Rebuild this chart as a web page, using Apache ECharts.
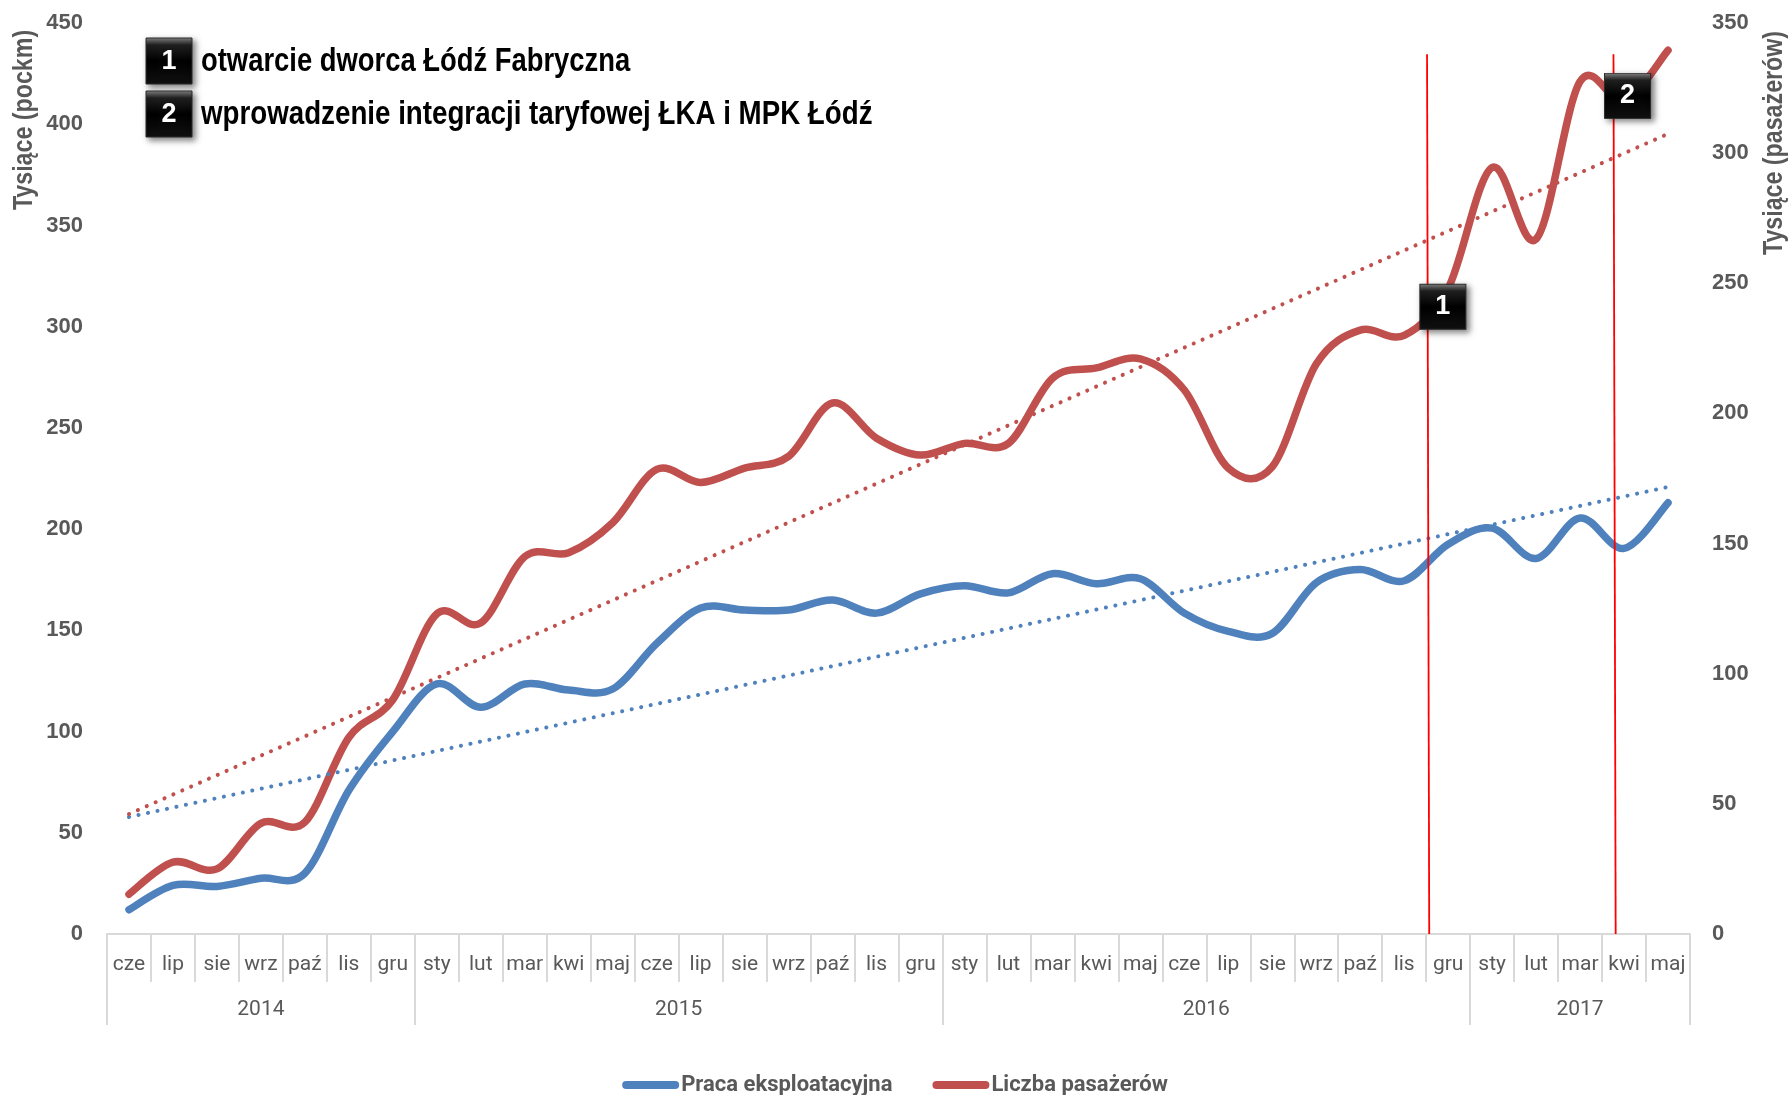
<!DOCTYPE html>
<html><head><meta charset="utf-8">
<script src="https://cdn.jsdelivr.net/npm/echarts@6/dist/echarts.min.js"></script>
<style>html,body{margin:0;padding:0;background:#fff}#c{width:1790px;height:1095px}</style>
</head><body><div id="c"></div>
<script>
// ---- data ----
const months = ['cze','lip','sie','wrz','paź','lis','gru',
  'sty','lut','mar','kwi','maj','cze','lip','sie','wrz','paź','lis','gru',
  'sty','lut','mar','kwi','maj','cze','lip','sie','wrz','paź','lis','gru',
  'sty','lut','mar','kwi','maj'];
const years = ['2014','2015','2016','2017'];
const monthsInYear = [7, 12, 12, 5];
// Praca eksploatacyjna (tys. pockm) - left axis
const pracaEksploatacyjna = [12, 24, 23.5, 27.5, 30, 71, 100,
  123.5, 112, 123.5, 120.5, 121, 143.5, 161, 160, 160, 165, 158.5, 168,
  172, 168.5, 178, 173, 175.5, 158.5, 149.5, 148.5, 173.5, 180, 174.5, 192.5,
  200.5, 185.5, 205.5, 190.5, 213];
// Liczba pasażerów (tys.) - right axis
const liczbaPasazerow = [15.3, 27.6, 25, 42.5, 43, 75.5, 90,
  123, 119.5, 145, 146.5, 158, 178.5, 173.5, 179, 183.5, 204, 190.5, 184,
  188.5, 188.5, 213.5, 217.5, 221, 209, 179, 179.5, 219, 232, 230, 248,
  294.5, 267, 327.5, 320, 339.5];
// linear trend lines (start / end values)
const trendPraca = [57.8, 220.8];
const trendPasazerow = [46.1, 307.4];
const seriesNames = ['Praca eksploatacyjna', 'Liczba pasażerów'];
const eventLabels = ['1', '2'];
const eventTexts = ['otwarcie dworca Łódź Fabryczna', 'wprowadzenie integracji taryfowej ŁKA i MPK Łódź'];

// ---- chart ----
const SANS = "'Liberation Sans', Arial, sans-serif";
const LABEL = "Roboto, 'Liberation Sans', sans-serif";
const GRAY = '#595959';
const BLUE = '#4F81BD';
const RED = '#C0504D';
const AXISGRAY = '#D9D9D9';

const bounds = [0];
monthsInYear.forEach(n => bounds.push(bounds[bounds.length - 1] + n));
const centers = years.map((y, i) => (bounds[i] + bounds[i + 1]) / 2);

function boxFill() {
  return new echarts.graphic.LinearGradient(0, 0, 0, 1, [
    {offset: 0, color: '#8a8a8a'},
    {offset: 0.16, color: '#202020'},
    {offset: 0.5, color: '#000000'},
    {offset: 1, color: '#111111'}
  ]);
}

// Smoothed line (Catmull-Rom through the data points, as in spreadsheet "smoothed line")
function smoothLine(values, color) {
  return function (params, api) {
    if (params.dataIndex !== 0) return null;
    const p = values.map((v, i) => api.coord([i, v]));
    const n = p.length;
    let d = 'M' + p[0][0] + ' ' + p[0][1];
    for (let i = 0; i < n - 1; i++) {
      const p0 = p[Math.max(i - 1, 0)], p1 = p[i], p2 = p[i + 1], p3 = p[Math.min(i + 2, n - 1)];
      const c1x = p1[0] + (p2[0] - p0[0]) / 6, c1y = p1[1] + (p2[1] - p0[1]) / 6;
      const c2x = p2[0] - (p3[0] - p1[0]) / 6, c2y = p2[1] - (p3[1] - p1[1]) / 6;
      d += ' C' + c1x + ' ' + c1y + ' ' + c2x + ' ' + c2y + ' ' + p2[0] + ' ' + p2[1];
    }
    return {
      type: 'path', shape: {pathData: d},
      style: {fill: null, stroke: color, lineWidth: 7.5, lineCap: 'round', lineJoin: 'round'}
    };
  };
}

const chart = echarts.init(document.getElementById('c'), null, {renderer: 'canvas'});
const dotted = {type: [0.1, 9.6], cap: 'round', width: 4};

const option = {
  animation: false,
  backgroundColor: '#ffffff',
  grid: {left: 107, right: 100, top: 23, bottom: 161, containLabel: false},
  legend: {
    data: seriesNames,
    top: 1069, left: 'center',
    itemWidth: 57, itemHeight: 8, itemGap: 40,
    icon: 'path://M4,0 H53 A4,4 0 0 1 53,8 H4 A4,4 0 0 1 4,0 Z',
    textStyle: {fontFamily: LABEL, fontWeight: 'bold', fontSize: 22, color: GRAY, padding: [0, 0, 0, -3]}
  },
  xAxis: [
    {
      type: 'category', data: months, boundaryGap: true, position: 'bottom',
      axisLine: {show: true, lineStyle: {color: AXISGRAY, width: 2}},
      axisTick: {show: true, interval: 0, length: 48, lineStyle: {color: AXISGRAY, width: 2}},
      axisLabel: {interval: 0, margin: 20, fontSize: 21, fontFamily: LABEL, color: GRAY},
      splitLine: {show: false}
    },
    {
      type: 'value', min: 0, max: months.length, position: 'bottom',
      axisLine: {show: false}, splitLine: {show: false},
      axisTick: {show: true, customValues: bounds, length: 91, lineStyle: {color: AXISGRAY, width: 2}},
      axisLabel: {
        show: true, customValues: centers, margin: 65, fontSize: 21, fontFamily: LABEL, color: GRAY,
        formatter: v => { const i = centers.findIndex(c => Math.abs(c - v) < 0.01); return i >= 0 ? years[i] : ''; }
      }
    }
  ],
  yAxis: [
    {
      type: 'value', min: 0, max: 450, interval: 50, position: 'left',
      axisLine: {show: false}, axisTick: {show: false}, splitLine: {show: false},
      axisLabel: {margin: 24, fontSize: 22, fontWeight: 'bold', fontFamily: SANS, color: GRAY}
    },
    {
      type: 'value', min: 0, max: 350, interval: 50, position: 'right',
      axisLine: {show: false}, axisTick: {show: false}, splitLine: {show: false},
      axisLabel: {margin: 22, fontSize: 22, fontWeight: 'bold', fontFamily: SANS, color: GRAY}
    }
  ],
  series: [
    {
      name: seriesNames[0], type: 'custom', xAxisIndex: 0, yAxisIndex: 0,
      data: pracaEksploatacyjna.map((v, i) => [i, v]), encode: {x: 0, y: 1},
      renderItem: smoothLine(pracaEksploatacyjna, BLUE),
      itemStyle: {color: BLUE}, clip: false, z: 2
    },
    {
      name: seriesNames[1], type: 'custom', xAxisIndex: 0, yAxisIndex: 1,
      data: liczbaPasazerow.map((v, i) => [i, v]), encode: {x: 0, y: 1},
      renderItem: smoothLine(liczbaPasazerow, RED),
      itemStyle: {color: RED}, clip: false, z: 2
    },
    {
      name: 'trend1', type: 'line', xAxisIndex: 0, yAxisIndex: 0,
      data: [[0, trendPraca[0]], [months.length - 1, trendPraca[1]]],
      symbol: 'none', lineStyle: Object.assign({color: BLUE}, dotted), z: 3
    },
    {
      name: 'trend2', type: 'line', xAxisIndex: 0, yAxisIndex: 1,
      data: [[0, trendPasazerow[0]], [months.length - 1, trendPasazerow[1]]],
      symbol: 'none', lineStyle: Object.assign({color: RED}, dotted), z: 3
    },
    {
      name: 'events', type: 'line', xAxisIndex: 1, yAxisIndex: 1, data: [], z: 5,
      markLine: {
        silent: true, symbol: ['none', 'none'], label: {show: false},
        lineStyle: {color: '#FF0000', width: 1.8, type: 'solid'},
        data: [
          [{coord: [30.02, 338]}, {coord: [30.07, 0]}],
          [{coord: [34.26, 338]}, {coord: [34.31, 0]}]
        ]
      },
      markPoint: {
        silent: true, symbol: 'rect', symbolSize: [46, 45],
        itemStyle: {color: boxFill(), borderColor: '#2a2a2a', borderWidth: 1,
          shadowBlur: 6, shadowOffsetX: 3, shadowOffsetY: 3, shadowColor: 'rgba(0,0,0,0.5)'},
        label: {show: true, position: 'inside', formatter: p => p.name, color: '#fff',
          fontSize: 27, fontWeight: 'bold', fontFamily: SANS},
        data: [
          {name: eventLabels[0], coord: [30.38, 241]},
          {name: eventLabels[1], coord: [34.58, 322]}
        ]
      }
    }
  ],
  graphic: [
    {type: 'text', x: 25, y: 120, rotation: Math.PI / 2, scaleX: 0.86, z: 10,
      style: {text: 'Tysiące (pockm)', fill: GRAY, fontSize: 27, fontWeight: 'bold', fontFamily: SANS, align: 'center', verticalAlign: 'middle'}},
    {type: 'text', x: 1775, y: 143, rotation: Math.PI / 2, scaleX: 0.86, z: 10,
      style: {text: 'Tysiące (pasażerów)', fill: GRAY, fontSize: 27, fontWeight: 'bold', fontFamily: SANS, align: 'center', verticalAlign: 'middle'}},
    {type: 'group', x: 146, y: 38, z: 10, children: [
      {type: 'rect', shape: {x: 0, y: 0, width: 46, height: 46}, style: {fill: boxFill(), stroke: '#2a2a2a', lineWidth: 1, shadowBlur: 6, shadowOffsetX: 3, shadowOffsetY: 3, shadowColor: 'rgba(0,0,0,0.5)'}},
      {type: 'text', x: 23, y: 24, style: {text: eventLabels[0], fill: '#fff', fontSize: 27, fontWeight: 'bold', fontFamily: SANS, align: 'center', verticalAlign: 'middle'}}
    ]},
    {type: 'text', x: 201, y: 62, scaleX: 0.83, z: 10,
      style: {text: eventTexts[0], fill: '#000', fontSize: 33, fontWeight: 'bold', fontFamily: SANS, align: 'left', verticalAlign: 'middle'}},
    {type: 'group', x: 146, y: 91, z: 10, children: [
      {type: 'rect', shape: {x: 0, y: 0, width: 46, height: 46}, style: {fill: boxFill(), stroke: '#2a2a2a', lineWidth: 1, shadowBlur: 6, shadowOffsetX: 3, shadowOffsetY: 3, shadowColor: 'rgba(0,0,0,0.5)'}},
      {type: 'text', x: 23, y: 24, style: {text: eventLabels[1], fill: '#fff', fontSize: 27, fontWeight: 'bold', fontFamily: SANS, align: 'center', verticalAlign: 'middle'}}
    ]},
    {type: 'text', x: 201, y: 115, scaleX: 0.84, z: 10,
      style: {text: eventTexts[1], fill: '#000', fontSize: 33, fontWeight: 'bold', fontFamily: SANS, align: 'left', verticalAlign: 'middle'}}
  ]
};
chart.setOption(option);
</script>
</body></html>
